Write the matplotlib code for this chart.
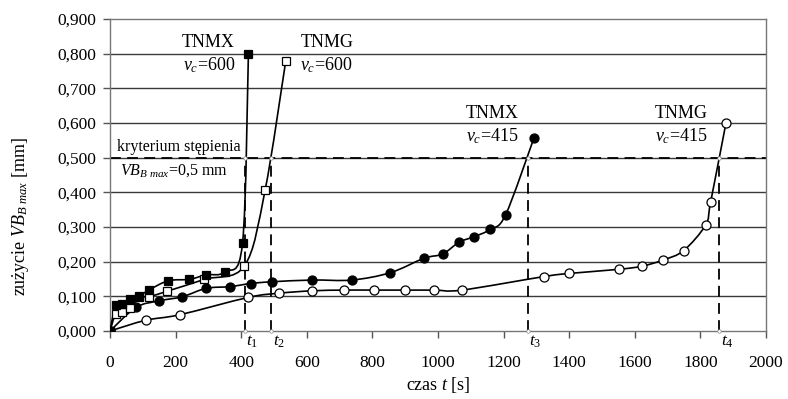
import numpy as np
import matplotlib
matplotlib.use("Agg")
import matplotlib.pyplot as plt
from matplotlib.path import Path
from matplotlib.patches import PathPatch

plt.rcParams['font.family'] = ['Liberation Serif', 'DejaVu Serif']
plt.rcParams['mathtext.fontset'] = 'custom'
plt.rcParams['mathtext.rm'] = 'Liberation Serif'
plt.rcParams['mathtext.it'] = 'Liberation Serif:italic'
plt.rcParams['mathtext.bf'] = 'Liberation Serif:bold'

# ---- data ----
tnmx600_t = [0, 17, 36, 61, 89, 120, 178, 242, 293, 351, 404, 422]
tnmx600_vb = [0.000, 0.074, 0.079, 0.091, 0.101, 0.119, 0.145, 0.149, 0.162, 0.171, 0.253, 0.800]

tnmg600_t = [0, 17, 38, 61, 89, 119, 175, 288, 410, 473, 536]
tnmg600_vb = [0.000, 0.048, 0.056, 0.065, 0.097, 0.099, 0.115, 0.149, 0.188, 0.407, 0.780]

tnmx415_t = [0, 79, 150, 221, 293, 366, 429, 493, 617, 737, 854, 958, 1014, 1064, 1110, 1159, 1206, 1293]
tnmx415_vb = [0.000, 0.068, 0.087, 0.099, 0.123, 0.128, 0.137, 0.142, 0.147, 0.147, 0.168, 0.210,
              0.222, 0.256, 0.272, 0.293, 0.335, 0.558]

tnmg415_t = [0, 109, 213, 422, 516, 617, 713, 806, 899, 989, 1073, 1323, 1400, 1552, 1622, 1687,
             1749, 1816, 1831, 1878]
tnmg415_vb = [0.000, 0.031, 0.047, 0.097, 0.109, 0.116, 0.118, 0.118, 0.118, 0.118, 0.118, 0.157,
              0.166, 0.178, 0.187, 0.205, 0.232, 0.306, 0.371, 0.600]

criterion = 0.5
t_crit = [412, 492, 1273, 1858]
t_labels = ['$t_{\\mathit{1}}$', '$t_{\\mathit{2}}$', '$t_{\\mathit{3}}$', '$t_{\\mathit{4}}$']

yticks = [0.0, 0.1, 0.2, 0.3, 0.4, 0.5, 0.6, 0.7, 0.8, 0.9]
xticks = [0, 200, 400, 600, 800, 1000, 1200, 1400, 1600, 1800, 2000]


def smooth_path(x, y):
    """Excel-like smoothed line: cubic Bezier segments through the points."""
    P = np.column_stack([x, y]).astype(float)
    n = len(P)
    verts = [P[0]]
    codes = [Path.MOVETO]
    for i in range(n - 1):
        p0 = P[i - 1] if i > 0 else P[i]
        p1 = P[i]
        p2 = P[i + 1]
        p3 = P[i + 2] if i + 2 < n else P[i + 1]
        c1 = p1 + (p2 - p0) / 6.0
        c2 = p2 - (p3 - p1) / 6.0
        verts += [c1, c2, p2]
        codes += [Path.CURVE4] * 3
    return Path(verts, codes)


fig = plt.figure(figsize=(7.88, 3.99), dpi=100)
ax = fig.add_axes([110 / 788, 68 / 399, 656 / 788, 312 / 399])

ax.set_xlim(0, 2000)
ax.set_ylim(0, 0.9)

for yv in yticks[1:-1]:
    ax.axhline(yv, color='#3a3a3a', lw=1.0, zorder=1)

series = [
    (tnmg415_t, tnmg415_vb, 'o', 'white', 6.5),
    (tnmx415_t, tnmx415_vb, 'o', 'black', 6.5),
    (tnmg600_t, tnmg600_vb, 's', 'white', 6.0),
    (tnmx600_t, tnmx600_vb, 's', 'black', 6.0),
]
for t, vb, m, fc, ms in series:
    ax.add_patch(PathPatch(smooth_path(t, vb), facecolor='none', edgecolor='black', lw=1.2, zorder=3))
    ax.plot(t, vb, linestyle='none', marker=m, ms=ms, mfc=fc, mec='black', mew=0.9, zorder=4)

# criterion lines
ax.axhline(criterion, color='black', lw=1.3, ls=(0, (6, 3.5)), zorder=2)
for tc, lab in zip(t_crit, t_labels):
    ax.plot([tc, tc], [0, criterion], color='black', lw=1.3, ls=(0, (6, 3.5)), zorder=2)
    ax.plot([tc], [criterion], marker='o', ms=2.5, mfc='white', mec='#888888', mew=0.5, zorder=5)
    ax.plot([tc], [0], marker='o', ms=2.5, mfc='white', mec='#888888', mew=0.5, zorder=5, clip_on=False)
    ax.text(tc + 4, -0.008, lab, ha='left', va='top', fontsize=12.5, clip_on=False)

# annotations
ax.text(381, 0.831, 'TNMX', ha='right', va='center', fontsize=13)
ax.text(381, 0.767, '$v_c$=600', ha='right', va='center', fontsize=13)
ax.text(580, 0.831, 'TNMG', ha='left', va='center', fontsize=13)
ax.text(580, 0.767, '$v_c$=600', ha='left', va='center', fontsize=13)
ax.text(1165, 0.627, 'TNMX', ha='center', va='center', fontsize=13)
ax.text(1165, 0.562, '$v_c$=415', ha='center', va='center', fontsize=13)
ax.text(1741, 0.627, 'TNMG', ha='center', va='center', fontsize=13)
ax.text(1741, 0.562, '$v_c$=415', ha='center', va='center', fontsize=13)
ax.text(20, 0.532, 'kryterium stępienia', ha='left', va='center', fontsize=11.5)
ax.text(32, 0.463, '$VB_{B\\ max}$=0,5 mm', ha='left', va='center', fontsize=11.5)

# axes styling
for s in ax.spines.values():
    s.set_color('#777777')
    s.set_linewidth(1.0)
ax.set_xticks(xticks)
ax.set_yticks(yticks)
ax.set_yticklabels([f'{v:.3f}'.replace('.', ',') for v in yticks])
ax.set_xticklabels([str(v) for v in xticks])
ax.tick_params(axis='both', direction='out', length=5, width=1, color='#555555',
               labelsize=12.5)
ax.tick_params(axis='y', pad=5)
ax.tick_params(axis='x', pad=12)

fig.text(0.5 * (110 + 766) / 788, (399 - 385) / 399, 'czas $t$ [s]', ha='center', va='center',
         fontsize=13)
ax.text(-0.137, 0.365, 'zużycie $VB_{B\\ max}$ [mm]', transform=ax.transAxes, rotation=90,
        ha='center', va='center', fontsize=13)

fig.savefig('out.png', dpi=100, facecolor='white')
